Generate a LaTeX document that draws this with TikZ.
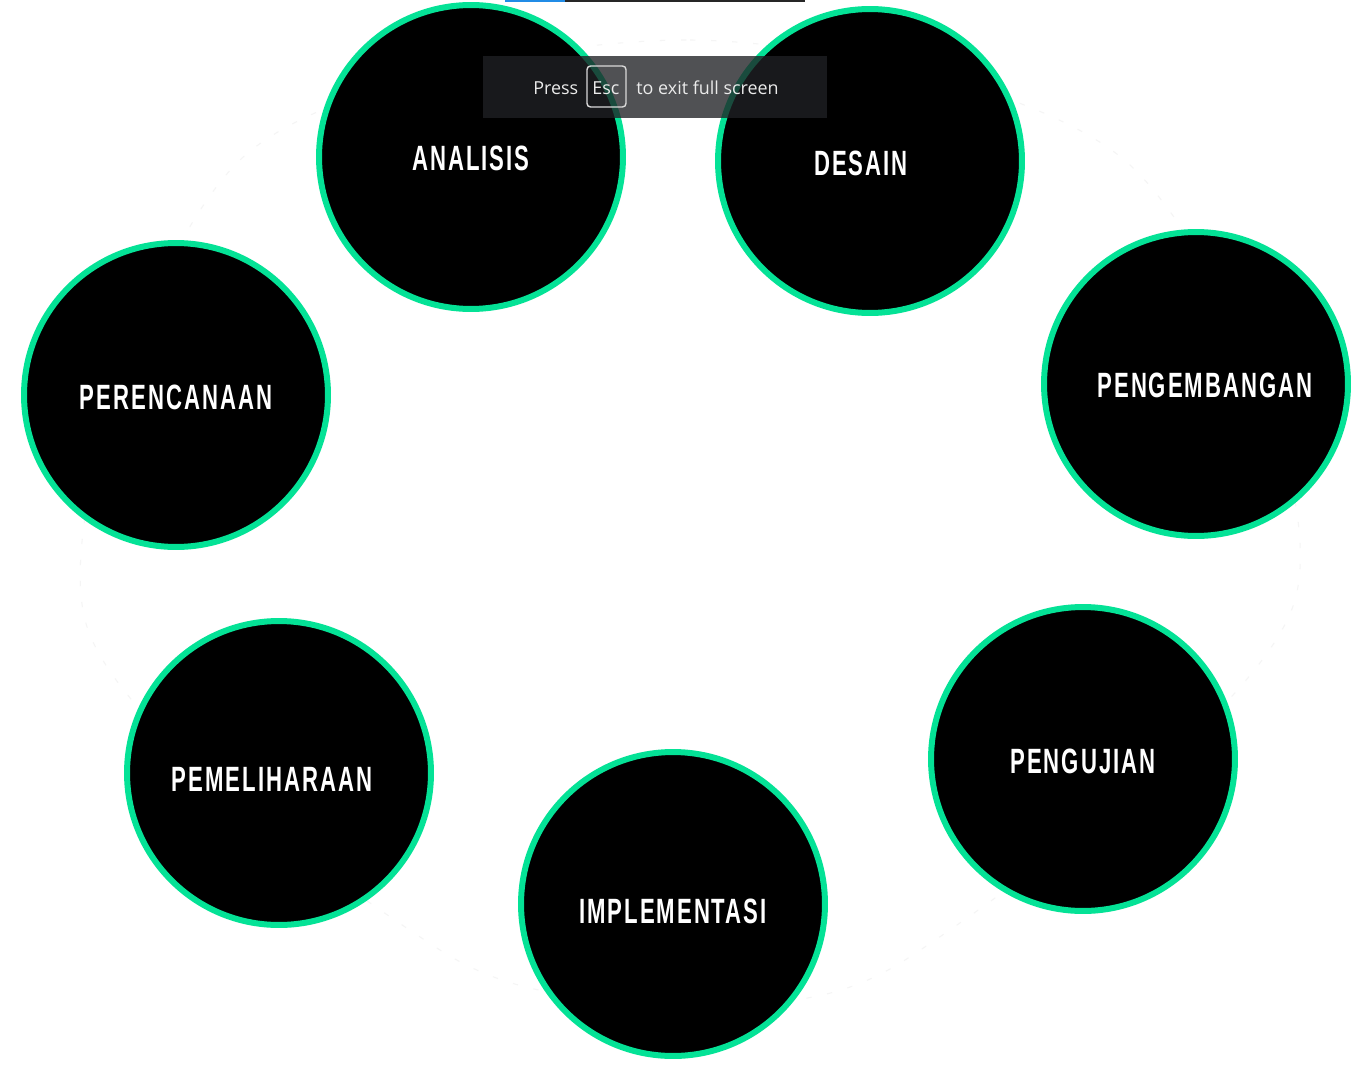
\documentclass[tikz,border=0pt]{standalone}
\usepackage{fontspec}
\setmainfont{Liberation Sans}
\newfontfamily\phasefont[LetterSpace=9]{Liberation Sans}
\newfontfamily\barfont{Open Sans}
\usetikzlibrary{positioning}
\definecolor{ringgreen}{RGB}{4,226,150}
\definecolor{bargray}{RGB}{32,33,36}
\definecolor{tabblue}{RGB}{33,140,230}
\newcommand{\phasetxt}[1]{\scalebox{0.63}[1]{\phasefont\bfseries\fontsize{20}{24}\selectfont #1}}
\tikzset{
    phase/.style={circle, fill=black, draw=ringgreen, line width=0.12cm,
        minimum size=6.08cm, inner sep=0pt},
    phaselabel/.style={text=white, inner sep=0pt},
    bartext/.style={text=white!92!black, font=\barfont\fontsize{10.2}{12}\selectfont, inner sep=0pt}
}

\begin{document}
\begin{tikzpicture}[
    x={(0.02cm,0cm)},
    y={(0cm,-0.02cm)}
]
\useasboundingbox[fill=white] (0,0) rectangle (1368,1078);

% --- Hintergrundring (kaum sichtbar) ---
\draw[black!4, line width=0.6pt, dash pattern=on 3pt off 9pt]
    plot[smooth cycle] coordinates {(240,160) (690,40) (1130,165) (1295,600) (905,960) (673,1000) (440,950) (85,620)};

% --- Phasen ---
\node[phase] (analisis)     at (471,157) {};
\node[phase] (desain)       at (870,161) {};
\node[phase] (perencanaan)  at (176,395) {};
\node[phase] (pengembangan) at (1196,384) {};
\node[phase] (pemeliharaan) at (279,773) {};
\node[phase] (pengujian)    at (1083,759) {};
\node[phase] (implementasi) at (673,904) {};

% Beschriftungen
\node[phaselabel] (analisis-t)     at (471,158) {\phasetxt{ANALISIS}};
\node[phaselabel] (desain-t)       at (861,163) {\phasetxt{DESAIN}};
\node[phaselabel] (perencanaan-t)  at (176,397) {\phasetxt{PERENCANAAN}};
\node[phaselabel] (pengembangan-t) at (1205,385) {\phasetxt{PENGEMBANGAN}};
\node[phaselabel] (pemeliharaan-t) at (272,779) {\phasetxt{PEMELIHARAAN}};
\node[phaselabel] (pengujian-t)    at (1083,761) {\phasetxt{PENGUJIAN}};
\node[phaselabel] (implementasi-t) at (673,911) {\phasetxt{IMPLEMENTASI}};

% --- Leiste oben ---
\fill[tabblue] (505,0) rectangle (565,2);
\fill[black!85] (565,0) rectangle (805,2);

% --- Vollbild-Hinweis ---
\fill[bargray, opacity=0.78] (483,56) rectangle (827,118);
\node[bartext, anchor=base west] (press) at (533,94) {Press};
\node[bartext, anchor=base] (esc) at (606,94) {Esc};
\draw[white!85!black, line width=0.8pt, rounded corners=2pt] (587,66) rectangle (626,107);
\node[bartext, anchor=base west] (exit) at (636,94) {to exit full screen};

\end{tikzpicture}
\end{document}
